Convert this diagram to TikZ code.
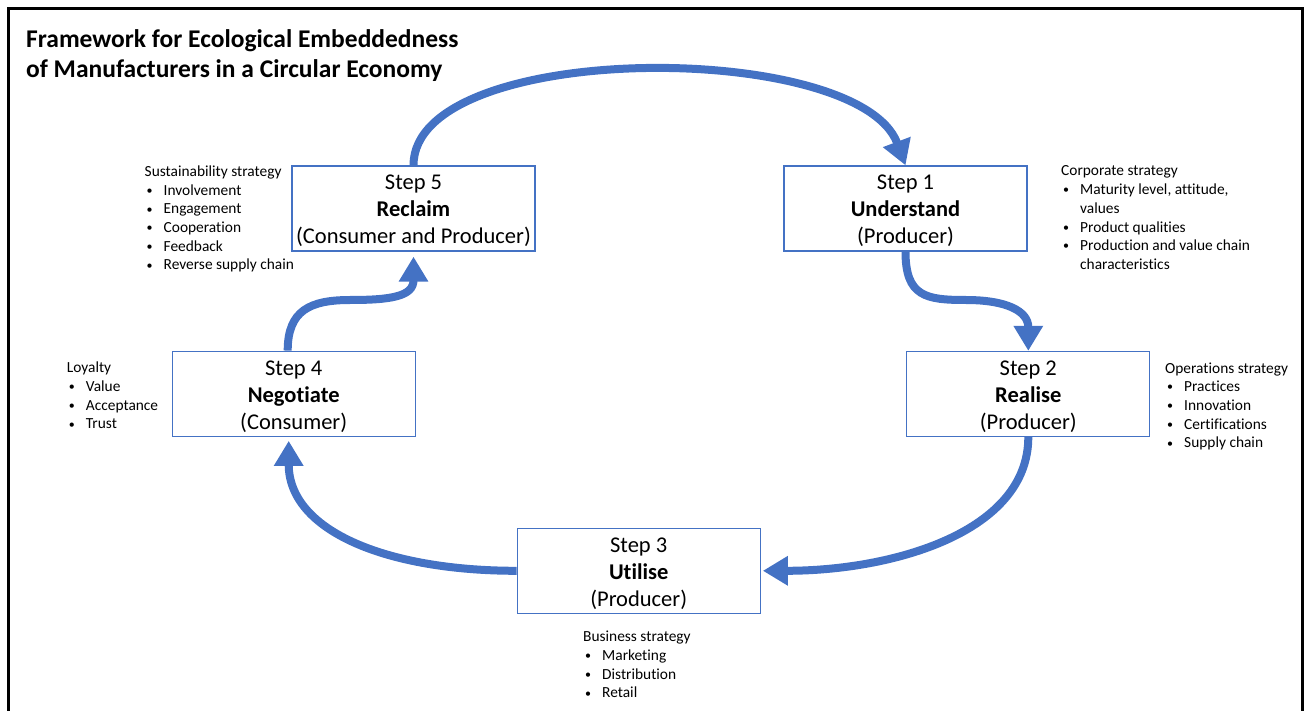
\documentclass[tikz,border=0pt]{standalone}
\usepackage{fontspec}
\setmainfont{Carlito}[Ligatures=NoCommon]
\usepackage{xcolor}
\usetikzlibrary{arrows.meta}
\definecolor{stepblue}{HTML}{4472C4}
\newcommand{\bul}{\hspace{2pt}\raisebox{0.8pt}{\fontsize{12}{12}\selectfont\textbullet}}
\newcommand{\strathead}[1]{\multicolumn{2}{@{}l@{}}{#1}}
\newcommand{\stratlist}[1]{\begin{tabular}[t]{@{}p{19pt}@{}l@{}}#1\end{tabular}}
\newcommand{\steptop}{\rule{0pt}{20pt}}

\begin{document}
\begin{tikzpicture}[x=1pt,y=-1pt,
	stepbox/.style={draw=stepblue, line width=1.3pt, minimum width=243pt, minimum height=85pt,
		inner sep=0pt, align=center, font=\fontsize{22.5}{27}\selectfont},
	stratnote/.style={anchor=base west, inner sep=0pt, font=\fontsize{15.4}{18.7}\selectfont},
	flow/.style={draw=stepblue, line width=8pt, -{Triangle[length=25pt,width=28pt]}}]
	\useasboundingbox (0,0) rectangle (1306,711);
	\draw[line width=3pt] (8.5,711) -- (8.5,8.5) -- (1302.5,8.5) -- (1302.5,711);
	% title
	\node[anchor=base west, inner sep=0pt, font=\bfseries\fontsize{25.5}{29.6}\selectfont] (title) at (26,47.7)
		{\begin{tabular}[t]{@{}l@{}}Framework for Ecological Embeddedness\\of Manufacturers in a Circular Economy\end{tabular}};
	% steps
	\node[stepbox] (s1) at (905.5,208.5) {\steptop Step 1\\\textbf{Understand}\\(Producer)};
	\node[stepbox] (s2) at (1028.3,394) {\steptop Step 2\\\textbf{Realise}\\(Producer)};
	\node[stepbox] (s3) at (638.7,570.8) {\steptop Step 3\\\textbf{Utilise}\\(Producer)};
	\node[stepbox] (s4) at (293.7,393.7) {\steptop Step 4\\\textbf{Negotiate}\\(Consumer)};
	\node[stepbox] (s5) at (413.5,208.5) {\steptop Step 5\\\textbf{Reclaim}\\(Consumer and Producer)};
	% strategies
	\node[stratnote] (n1) at (1061,176) {\stratlist{\strathead{Corporate strategy}\\
		\bul & Maturity level, attitude,\\ & values\\ \bul & Product qualities\\
		\bul & Production and value chain\\ & characteristics}};
	\node[stratnote] (n2) at (1165,373) {\stratlist{\strathead{Operations strategy}\\
		\bul & Practices\\ \bul & Innovation\\ \bul & Certifications\\ \bul & Supply chain}};
	\node[stratnote] (n3) at (583,641.7) {\stratlist{\strathead{Business strategy}\\
		\bul & Marketing\\ \bul & Distribution\\ \bul & Retail}};
	\node[stratnote] (n4) at (66.7,372.7) {\stratlist{\strathead{Loyalty}\\
		\bul & Value\\ \bul & Acceptance\\ \bul & Trust}};
	\node[stratnote] (n5) at (144.5,176.5) {\stratlist{\strathead{Sustainability strategy}\\
		\bul & Involvement\\ \bul & Engagement\\ \bul & Cooperation\\ \bul & Feedback\\ \bul & Reverse supply chain}};
	% cycle
	\coordinate (b12) at (966,300);
	\coordinate (b45) at (350,300);
	\draw[flow] (s5.north) .. controls +(0,-126) and +(-47,-126) .. (s1.north);
	\draw[flow] (s1.south) .. controls +(0,45) and +(-40,0) .. (b12) .. controls +(40,0) and +(0,-40) .. (s2.north);
	\draw[flow] (s2.south) .. controls +(0,95) and +(130,0) .. ([xshift=2pt]s3.east);
	\draw[flow] (s3.west) .. controls +(-130,0) and +(0,90) .. ([xshift=-5pt,yshift=-4pt]s4.south);
	\draw[flow] ([xshift=-6pt]s4.north) .. controls +(0,-40) and +(-40,0) .. (b45) .. controls +(40,0) and +(0,40) .. ([yshift=-5pt]s5.south);
\end{tikzpicture}
\end{document}
